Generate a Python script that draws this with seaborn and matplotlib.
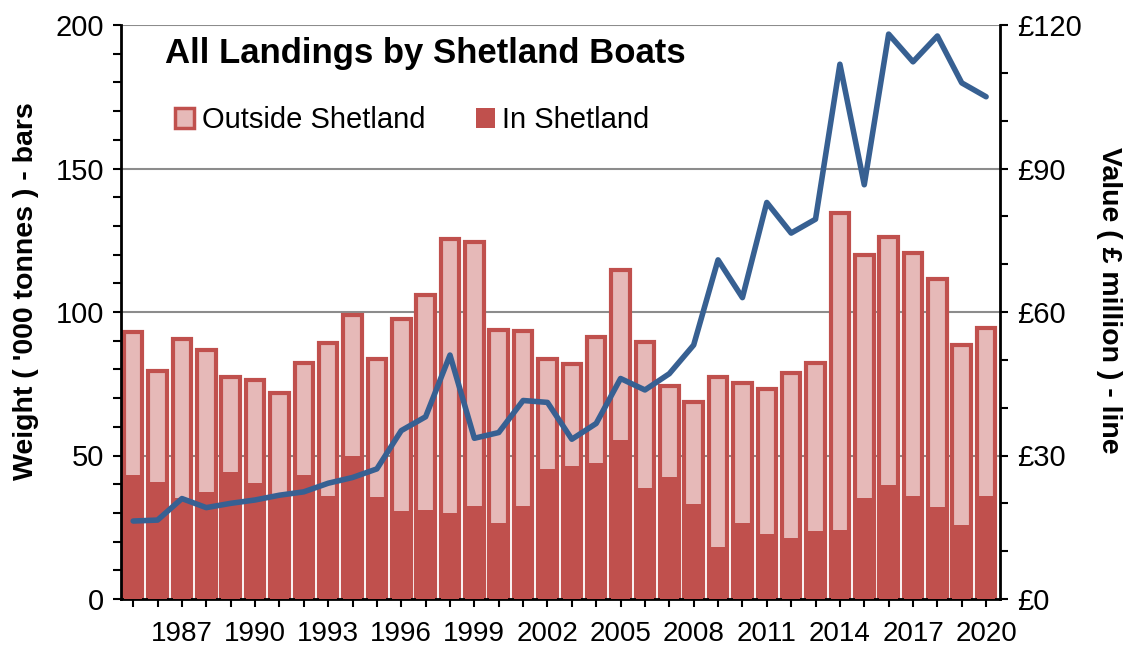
import numpy as np
import pandas as pd
import matplotlib
matplotlib.use("Agg")
import matplotlib.pyplot as plt
import seaborn as sns
from matplotlib.patches import Patch
from matplotlib.ticker import MultipleLocator, FixedLocator

years = list(range(1985, 2021))
total_weight = [93.1, 79.5, 90.7, 86.8, 77.4, 76.3, 71.9, 82.3, 89.1, 98.8,
                83.5, 97.7, 105.9, 125.4, 124.3, 93.7, 93.5, 83.6, 81.9, 91.4,
                114.6, 89.5, 74.3, 68.5, 77.5, 75.4, 73.1, 78.9, 82.3, 134.6,
                119.7, 126.0, 120.7, 111.4, 88.5, 94.5]
in_shetland = [43.2, 40.9, 35.1, 37.4, 44.1, 40.5, 36.2, 43.2, 36.0, 49.9,
               35.4, 30.8, 30.9, 30.1, 32.4, 26.6, 32.5, 45.2, 46.5, 47.3,
               55.4, 38.8, 42.6, 33.1, 18.2, 26.4, 22.5, 21.4, 23.7, 24.0,
               35.3, 39.7, 35.9, 32.2, 25.8, 35.9]
value_m = [16.3, 16.5, 21.0, 19.1, 20.0, 20.7, 21.7, 22.4, 24.2, 25.4,
           27.2, 35.2, 38.1, 51.0, 33.6, 34.8, 41.5, 41.1, 33.4, 36.7,
           46.1, 43.7, 47.1, 53.1, 70.9, 63.0, 82.9, 76.5, 79.4, 111.8,
           86.6, 118.1, 112.3, 117.7, 107.9, 105.0]
label_years = list(range(1987, 2021, 3))
left_ticks = [0, 50, 100, 150, 200]
right_ticks = [0, 30, 60, 90, 120]

df = pd.DataFrame({"year": years, "total": total_weight,
                   "inshet": in_shetland, "value": value_m})

RED = "#C0504D"
PINK = "#E6B9B8"
BLUE = "#376092"
GRID = "#8C8C8C"

sns.set_style("white")
plt.rcParams["font.family"] = ["Liberation Sans", "DejaVu Sans"]
plt.rcParams["text.color"] = "black"
plt.rcParams["axes.labelcolor"] = "black"

fig = plt.figure(figsize=(11.28, 6.5), dpi=100)
ax = fig.add_axes([121/1128, 1-599/650, (1000-121)/1128, (599-25)/650])

sns.barplot(data=df, x="year", y="total", native_scale=True, color=PINK,
            width=0.76, edgecolor=RED, linewidth=3, saturation=1, ax=ax, zorder=2)
sns.barplot(data=df, x="year", y="inshet", native_scale=True, color=RED,
            width=0.76, edgecolor=RED, linewidth=0, saturation=1, ax=ax, zorder=3)

ax.set_xlim(1984.5, 2020.57)
ax.set_ylim(0, 200)
ax.set_yticks(left_ticks)
ax.yaxis.set_minor_locator(MultipleLocator(10))
ax.set_xticks(label_years)
ax.set_xticklabels([str(y) for y in label_years])
ax.xaxis.set_minor_locator(FixedLocator(years))
ax.tick_params(axis="x", which="both", direction="out", length=6, width=1.5,
               colors="black", labelsize=20, bottom=True, pad=10)
ax.tick_params(axis="y", which="both", direction="out", length=6, width=1.5,
               colors="black", labelsize=21, left=True, pad=6)
for y in [50, 100, 150, 200]:
    ax.axhline(y, color=GRID, lw=1.5, zorder=1)
for s in ["top", "right"]:
    ax.spines[s].set_visible(False)
for s in ["left", "bottom"]:
    ax.spines[s].set_color("black")
    ax.spines[s].set_linewidth(2)
ax.set_xlabel("")
ax.set_ylabel("Weight ( '000 tonnes ) - bars", fontsize=20.5, fontweight="bold", va="center")
ax.yaxis.set_label_coords(-0.108, 0.537)

ax2 = ax.twinx()
sns.lineplot(data=df, x="year", y="value", color=BLUE, lw=4, ax=ax2, zorder=5)
ax2.set_ylim(0, 120)
ax2.set_yticks(right_ticks)
ax2.set_yticklabels([f"£{v}" for v in right_ticks])
ax2.yaxis.set_minor_locator(MultipleLocator(10))
ax2.tick_params(axis="y", which="both", direction="out", length=6, width=1.5,
                colors="black", labelsize=21, right=True, pad=6)
for s in ["top", "left", "bottom"]:
    ax2.spines[s].set_visible(False)
ax2.spines["right"].set_color("black")
ax2.spines["right"].set_linewidth(2)
ax2.set_ylabel("Value ( £ million ) - line", fontsize=20.5, fontweight="bold",
               rotation=270, va="center")
ax2.yaxis.set_label_coords(1.124, 0.521)
ax2.set_xlabel("")

ax.text(0.05, 0.95, "All Landings by Shetland Boats", transform=ax.transAxes,
        fontsize=25, fontweight="bold", va="center", ha="left")

handles = [Patch(facecolor=PINK, edgecolor=RED, linewidth=2.5, label="Outside Shetland"),
           Patch(facecolor=RED, edgecolor=RED, linewidth=0, label="In Shetland")]
ax2.legend(handles=handles, loc="center left", bbox_to_anchor=(0.032, 0.834),
           ncol=2, frameon=False, fontsize=21, handlelength=0.65, handleheight=0.65,
           handletextpad=0.25, columnspacing=1.75)

fig.savefig("out.png", dpi=100)
